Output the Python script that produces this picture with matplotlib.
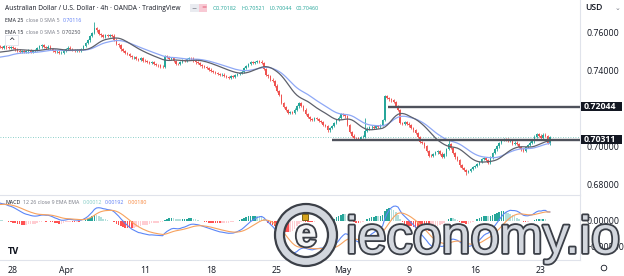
import numpy as np
import pandas as pd
import matplotlib
matplotlib.use('Agg')
import matplotlib.pyplot as plt
from matplotlib.patches import Wedge, Rectangle, Circle
from matplotlib.transforms import IdentityTransform
import matplotlib.patheffects as pe

# ---------------- data (AUD/USD 4h) ----------------
first_open = 0.7525
closes = [
    0.7522, 0.7518, 0.7525, 0.7519, 0.7514, 0.7521, 0.7516,
    0.7508, 0.7502, 0.7496, 0.7499, 0.7493, 0.7498, 0.7503, 0.7497, 0.7501, 0.7506,
    0.7515, 0.7524, 0.7529, 0.7522, 0.7518, 0.7523, 0.7510, 0.7502,
    0.7494, 0.7497, 0.7488, 0.7492, 0.7503, 0.7512, 0.7518, 0.7510, 0.7504, 0.7499, 0.7506, 0.7501,
    0.7512, 0.7528, 0.7541, 0.7556, 0.7580, 0.7596, 0.7622, 0.7608, 0.7590, 0.7582,
    0.7575, 0.7583, 0.7578, 0.7586, 0.7581, 0.7560, 0.7538, 0.7529,
    0.7508, 0.7501, 0.7490, 0.7483, 0.7474, 0.7466, 0.7470, 0.7459, 0.7455, 0.7462, 0.7450, 0.7447,
    0.7441, 0.7436, 0.7443, 0.7432, 0.7428, 0.7424, 0.7418, 0.7414, 0.7472, 0.7468, 0.7460,
    0.7464, 0.7448, 0.7433, 0.7430, 0.7441, 0.7452, 0.7448, 0.7458, 0.7465, 0.7461, 0.7450, 0.7440,
    0.7436, 0.7428, 0.7419, 0.7414, 0.7409, 0.7402, 0.7396, 0.7390, 0.7386,
    0.7380, 0.7373, 0.7376, 0.7368, 0.7364, 0.7360, 0.7366, 0.7362, 0.7372, 0.7378, 0.7385, 0.7392,
    0.7410, 0.7422, 0.7430, 0.7440, 0.7436, 0.7444, 0.7449, 0.7442, 0.7438, 0.7405, 0.7372,
    0.7366, 0.7350, 0.7342, 0.7318, 0.7290, 0.7270, 0.7228, 0.7205, 0.7188, 0.7176, 0.7180, 0.7172,
    0.7192, 0.7208, 0.7225, 0.7210, 0.7192, 0.7168, 0.7152, 0.7140, 0.7136, 0.7148, 0.7142, 0.7133,
    0.7128, 0.7112, 0.7104, 0.7082, 0.7096, 0.7106, 0.7122, 0.7138, 0.7150, 0.7168, 0.7162, 0.7156,
    0.7110, 0.7072, 0.7055, 0.7044, 0.7040, 0.7036, 0.7046, 0.7050, 0.7080, 0.7092, 0.7098, 0.7102,
    0.7096, 0.7104, 0.7100, 0.7110, 0.7138, 0.7262, 0.7252, 0.7245, 0.7240, 0.7230, 0.7212, 0.7190,
    0.7120, 0.7115, 0.7128, 0.7118, 0.7108, 0.7096, 0.7082, 0.7070, 0.7048, 0.7020, 0.7014, 0.6998,
    0.6975, 0.6950, 0.6946, 0.6958, 0.6966, 0.6974, 0.6960, 0.6942, 0.6956, 0.6985, 0.7010, 0.6990,
    0.6965, 0.6940, 0.6925, 0.6898, 0.6885, 0.6874, 0.6864, 0.6870, 0.6880, 0.6888, 0.6896, 0.6905,
    0.6916, 0.6930, 0.6938, 0.6925, 0.6912, 0.6940, 0.6962, 0.6982, 0.6998, 0.7014, 0.7030, 0.7038,
    0.7034, 0.7028, 0.7032, 0.7012, 0.7018, 0.7010, 0.6996, 0.6982, 0.6975, 0.6995, 0.7004, 0.7018,
    0.7024, 0.7050, 0.7062, 0.7055, 0.7040, 0.7060, 0.7052, 0.7018, 0.7046,
]
first_index = -6
# notable wick extremes: index -> (high, low)
extremes = {37: (0.7653, None), 68: (None, 0.7408), 113: (0.7453, None),
            143: (None, 0.7072), 160: (0.7150, None), 169: (0.7270, None),
            198: (0.7030, None), 206: (None, 0.6847), 244: (0.70521, 0.70044)}
wick = 0.0006

ema_fast_seed, ema_slow_seed = 0.7490, 0.7463     # EMA15 / EMA25 at left edge
macd_seeds = (0.7496, 0.7461, 0.0031)             # EMA12, EMA26, signal at left edge

levels = [0.72044, 0.70311]
level_starts = [170.5, 145.0]

tick_idx = [0, 24, 60, 90, 120, 150, 180, 210, 240]
tick_lbl = ['28', 'Apr', '11', '18', '25', 'May', '9', '16', '23']
price_ticks = [0.68, 0.70, 0.74, 0.76]     # 0.72000 is hidden behind the 0.72044 label
macd_ticks = [0.0, -0.005]

title = 'Australian Dollar / U.S. Dollar · 4h · OANDA · TradingView'
ohlc = ['O0.70182', 'H0.70521', 'L0.70044', 'C0.70460']
ema_rows = [('EMA 25', 'close 0 SMA 5', '0.70116'), ('EMA 15', 'close 0 SMA 5', '0.70250')]
macd_legend = ['MACD', '12 26 close 9 EMA EMA', '0.00012', '0.00192', '0.00180']

# ---------------- derived ----------------
c = np.array(closes)
n = len(c)
idx = np.arange(n) + first_index
o = np.concatenate([[first_open], c[:-1]])
hi = np.maximum(o, c) + wick
lo = np.minimum(o, c) - wick
for k, (h_, l_) in extremes.items():
    j = k - first_index
    if h_ is not None: hi[j] = h_
    if l_ is not None: lo[j] = l_

def ema(vals, span, seed):
    a = 2.0 / (span + 1); e = seed; out = []
    for v in vals:
        e = e + a * (v - e); out.append(e)
    return np.array(out)

ema15 = pd.Series(ema(c, 15, ema_fast_seed)).rolling(5, min_periods=1).mean().values
ema25 = pd.Series(ema(c, 25, ema_slow_seed)).rolling(5, min_periods=1).mean().values
macd = ema(c, 12, macd_seeds[0]) - ema(c, 26, macd_seeds[1])
sig = ema(macd, 9, macd_seeds[2])
hist = macd - sig

# ---------------- figure ----------------
W, H = 624, 276
fig = plt.figure(figsize=(W / 100, H / 100), dpi=100)
fig.patch.set_facecolor('white')
renderer = fig.canvas.get_renderer()
def fx(p): return p / W
def fy(p): return 1 - p / H

FONT = 'Open Sans'
TXT = '#131722'
GREY = '#787b86'
GRID = '#e0e3eb'

ax = fig.add_axes([0, fy(195), fx(580), 195 / H])
mx = fig.add_axes([0, fy(260), fx(580), 65 / H], sharex=ax)

x_lo = (0 - 13) / 2.2
x_hi = (580 - 13) / 2.2
ax.set_xlim(x_lo, x_hi)
ax.set_ylim(0.76 - 163 / 1900, 0.76 + 32 / 1900)
mx.set_ylim(-0.0075, 0.005)

up, dn = '#26a69a', '#ef5350'
cols = np.where(c >= o, up, dn)
ax.vlines(idx, lo, hi, colors=cols, lw=0.6, zorder=3)
body_h = np.maximum(np.abs(c - o), 0.00012)
ax.bar(idx, body_h, bottom=np.minimum(o, c), width=0.72, color=cols, lw=0, zorder=4)

ax.plot(idx, ema25, color='#8ea8f6', lw=0.9, zorder=5)
ax.plot(idx, ema15, color='#5d606b', lw=0.9, zorder=5)

ax.axhline(c[-1], color='#26a69a', lw=0.6, ls=(0, (1, 2)), alpha=0.7, zorder=2)
for lv, st in zip(levels, level_starts):
    ax.hlines(lv, st, x_hi, color='#4f525c', lw=1.7, zorder=6)

# MACD pane
hcols = []
for j in range(n):
    prev = hist[j - 1] if j > 0 else hist[j]
    if hist[j] >= 0:
        hcols.append('#26a69a' if hist[j] > prev else '#b2dfdb')
    else:
        hcols.append('#ffcdd2' if hist[j] > prev else '#ff5252')
mx.bar(idx, hist, width=0.75, color=hcols, lw=0, zorder=3)
mx.plot(idx, macd, color='#5b86f7', lw=0.8, zorder=4)
mx.plot(idx, sig, color='#f7a25e', lw=0.8, zorder=4)

for a in (ax, mx):
    for s in a.spines.values():
        s.set_visible(False)
    a.spines['right'].set_visible(True)
    a.spines['right'].set_color(GRID)
    a.spines['right'].set_linewidth(0.8)
    a.yaxis.tick_right()
    a.tick_params(axis='y', length=0, pad=5, labelsize=6.3, labelcolor=TXT)
    a.set_facecolor('white')
mx.spines['top'].set_visible(True); mx.spines['top'].set_color(GRID)
mx.spines['bottom'].set_visible(True); mx.spines['bottom'].set_color(GRID)

ax.set_yticks(price_ticks)
ax.set_yticklabels(['%.5f' % v for v in price_ticks], fontfamily=FONT)
mx.set_yticks(macd_ticks)
mx.set_yticklabels(['0.00000', '−0.00500'], fontfamily=FONT)
ax.tick_params(axis='x', bottom=False, labelbottom=False)
mx.set_xticks(tick_idx)
mx.set_xticklabels(tick_lbl, fontfamily=FONT)
mx.tick_params(axis='x', length=0, pad=4, labelsize=6.3, labelcolor=TXT)

# ---------------- price-axis boxes ----------------
for lv, yc in zip(levels, [106.5, 139.5]):
    fig.add_artist(Rectangle((fx(580.5), fy(yc + 4.8)), fx(41), 9.6 / H,
                             transform=fig.transFigure, fc=TXT, ec='none', zorder=20))
    fig.text(fx(584), fy(yc), '%.5f' % lv, color='white', fontsize=6.3, weight='bold',
             family=FONT, va='center', ha='left', zorder=21)
fig.text(fx(585), fy(8), 'USD', color=TXT, fontsize=6.2, family=FONT, weight='semibold', va='center')
fig.text(fx(615), fy(8), '⌄', color=GREY, fontsize=5, va='center')

# ---------------- header texts (fitted to measured spans) ----------------
def fitted_row(x0, x1, y, parts, gap=3.0, base=5.0, weight='normal'):
    """parts: list of (text, colour). Scales font so the row spans x0..x1 px."""
    arts = [fig.text(0, 0, s, color=col, fontsize=base, family=FONT, weight=weight,
                     va='center', ha='left') for s, col in parts]
    widths = [a.get_window_extent(renderer).width for a in arts]
    scale = (x1 - x0 - gap * (len(parts) - 1)) / sum(widths)
    size = base * scale
    x = x0
    for a, w in zip(arts, widths):
        a.set_fontsize(size)
        a.set_position((fx(x), fy(y)))
        x += w * scale + gap
    return arts

fitted_row(5, 182, 8, [(title, TXT)])
fig.add_artist(Rectangle((fx(190), fy(12)), fx(9), 8 / H, transform=fig.transFigure,
                         fc='#e9ebf0', ec='none'))
fig.add_artist(Rectangle((fx(199.5), fy(12)), fx(8), 8 / H, transform=fig.transFigure,
                         fc='#f8c9d4', ec='none'))
fig.text(fx(194.5), fy(8), '−', color=GREY, fontsize=4.5, ha='center', va='center')
fig.text(fx(203.5), fy(8), '=', color='#e0506b', fontsize=4.5, ha='center', va='center')
fitted_row(213, 320, 8, [(s, '#26a69a') for s in ohlc], gap=3.5)

fitted_row(5, 82, 20, [(ema_rows[0][0], TXT), (ema_rows[0][1], GREY), (ema_rows[0][2], '#5b7cf5')],
           gap=2.5)
fitted_row(5, 82, 33, [(ema_rows[1][0], TXT), (ema_rows[1][1], GREY), (ema_rows[1][2], '#4a4d57')],
           gap=2.5)

fig.add_artist(Rectangle((fx(5), fy(45)), fx(13), 10 / H, transform=fig.transFigure,
                         fc='white', ec=GRID, lw=0.6, zorder=10))
fig.text(fx(11.5), fy(41), '^', color=TXT, fontsize=5.5, ha='center', va='center', zorder=11)

fitted_row(5, 148, 202, [(macd_legend[0], TXT), (macd_legend[1], GREY),
                         (macd_legend[2], '#80cbc4'), (macd_legend[3], '#5b7cf5'),
                         (macd_legend[4], '#f7853a')], gap=2.5)

# TradingView logo & settings icon
fig.text(fx(13), fy(251), 'TV', color=TXT, fontsize=5.5, weight='heavy', ha='center', va='center',
         family='DejaVu Sans')
fig.add_artist(Circle((604, H - 268), 2.8, transform=IdentityTransform(), fc='none', ec=TXT, lw=0.6))

# ---------------- watermark ----------------
stroke = [pe.withStroke(linewidth=2.6, foreground='#3b3f47')]
fig.add_artist(Wedge((306, H - 235), 31, 0, 360, width=9, transform=IdentityTransform(),
                     fc='#d3d7de', ec='#3b3f47', lw=1.6, zorder=30))
fig.text(fx(306), fy(236), 'e', fontsize=28, weight='bold', family='Liberation Sans',
         color='#f2f3f5', ha='center', va='center', path_effects=stroke, zorder=31)
fig.add_artist(Rectangle((302, H - 220), 6, 6, transform=IdentityTransform(),
                         fc='#d6a31c', ec='#6b5200', lw=0.6, zorder=32))
fig.text(fx(346), fy(253), 'ieconomy.io', fontsize=37.5, family='Liberation Sans',
         color='#d3d7de', ha='left', va='baseline', path_effects=stroke, zorder=31)

fig.savefig('out.png', dpi=100, facecolor='white')
